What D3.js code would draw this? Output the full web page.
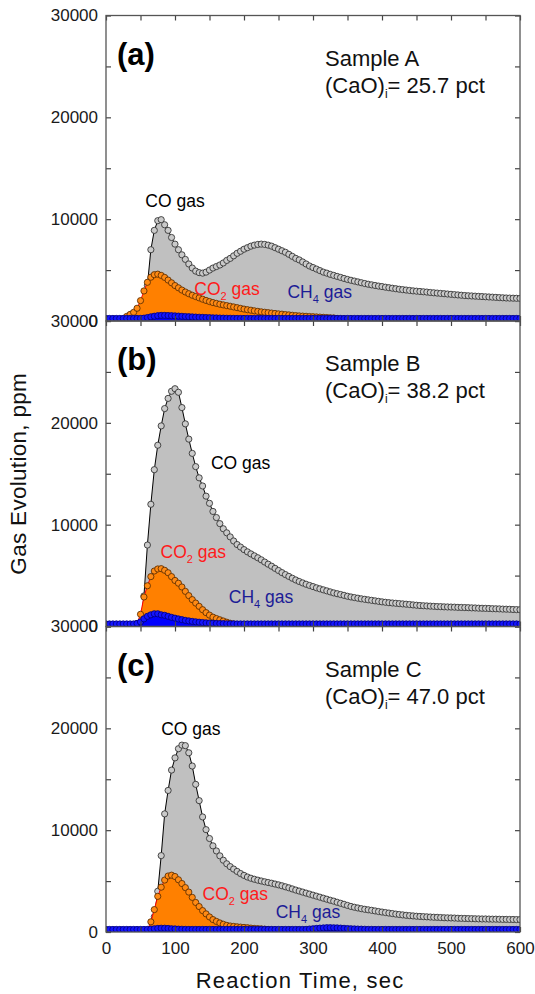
<!DOCTYPE html>
<html><head><meta charset="utf-8">
<script src="https://cdn.jsdelivr.net/npm/d3@7/dist/d3.min.js"></script>
<style>
body{margin:0;background:#fff;}
svg text{font-family:"Liberation Sans",Arial,sans-serif;}
</style></head>
<body><div id="chart"></div>
<script>
/* Gas evolution (ppm) versus reaction time for three samples.
   Every series is sampled each 5 s; values are read off the figure. */
var time=[0,5,10,15,20,25,30,35,40,45,50,
  55,60,65,70,75,80,85,90,95,100,
  105,110,115,120,125,130,135,140,145,150,
  155,160,165,170,175,180,185,190,195,200,
  205,210,215,220,225,230,235,240,245,250,
  255,260,265,270,275,280,285,290,295,300,
  305,310,315,320,325,330,335,340,345,350,
  355,360,365,370,375,380,385,390,395,400,
  405,410,415,420,425,430,435,440,445,450,
  455,460,465,470,475,480,485,490,495,500,
  505,510,515,520,525,530,535,540,545,550,
  555,560,565,570,575,580,585,590,595,600];

// Sample A
var coA=[0,0,0,0,0,0,0,0,0,0,0,
  150,3500,7000,8900,9850,9950,9450,8900,8200,7550,
  7000,6500,6050,5600,5200,4900,4750,4700,4800,5000,
  5200,5350,5500,5700,5950,6150,6400,6650,6850,7050,
  7200,7350,7450,7520,7550,7520,7450,7350,7200,7050,
  6900,6750,6550,6350,6150,6000,5800,5600,5400,5250,
  5100,4950,4800,4700,4580,4480,4380,4280,4180,4080,
  4000,3920,3840,3760,3680,3610,3550,3490,3430,3380,
  3320,3270,3220,3170,3120,3080,3040,3000,2960,2930,
  2900,2870,2840,2800,2770,2740,2710,2680,2650,2620,
  2590,2560,2530,2500,2480,2460,2440,2420,2400,2380,
  2360,2340,2320,2300,2280,2260,2250,2240,2230,2220];
var co2A=[0,0,0,0,0,200,450,650,850,1250,2000,
  2950,3800,4300,4550,4600,4480,4280,4020,3750,3480,
  3260,3040,2850,2680,2530,2400,2270,2140,2020,1910,
  1810,1730,1650,1580,1510,1450,1380,1310,1240,1170,
  1110,1060,1000,950,900,860,820,780,740,700,
  670,630,600,560,530,500,480,460,440,420,
  400,380,360,340,320,300,250,200,150,100,
  0,0,0,0,0,0,0,0,0,0,
  0,0,0,0,0,0,0,0,0,0,
  0,0,0,0,0,0,0,0,0,0,
  0,0,0,0,0,0,0,0,0,0,
  0,0,0,0,0,0,0,0,0,0];
var ch4A=[250,250,250,250,250,250,250,250,250,250,250,
  280,340,410,470,520,550,550,540,520,500,
  480,460,440,420,400,385,370,355,340,325,
  310,300,290,280,270,265,260,255,250,250,
  250,250,250,250,250,250,250,250,250,250,
  250,250,250,250,250,250,250,250,250,250,
  250,250,250,250,250,250,250,250,250,250,
  250,250,250,250,250,250,250,250,250,250,
  250,250,250,250,250,250,250,250,250,250,
  250,250,250,250,250,250,250,250,250,250,
  250,250,250,250,250,250,250,250,250,250,
  250,250,250,250,250,250,250,250,250,250];

// Sample B
var coB=[0,0,0,0,0,0,0,0,0,0,300,
  3000,8000,12000,15400,17800,19700,21400,22400,23100,23350,
  23000,21500,19900,18400,17000,15700,14600,13800,12800,12100,
  11300,10700,10100,9600,9200,8800,8400,8050,7800,7550,
  7330,7130,6940,6750,6550,6330,6120,5920,5710,5500,
  5290,5100,4920,4740,4570,4420,4280,4150,4030,3920,
  3800,3700,3600,3500,3400,3300,3220,3140,3060,2970,
  2900,2840,2780,2720,2670,2620,2570,2520,2470,2420,
  2380,2340,2310,2280,2250,2220,2190,2160,2120,2090,
  2060,2040,2020,2000,1980,1960,1950,1930,1920,1910,
  1900,1880,1870,1860,1850,1830,1820,1800,1790,1780,
  1770,1750,1740,1730,1710,1700,1690,1670,1660,1650];
var co2B=[0,0,0,0,0,0,0,0,0,300,1200,
  2900,4000,4900,5450,5650,5680,5520,5280,4900,4520,
  4250,3880,3450,3030,2640,2300,1980,1650,1360,1120,
  920,780,660,540,420,320,250,180,120,80,
  50,0,0,0,0,0,0,0,0,0,
  0,0,0,0,0,0,0,0,0,0,
  0,0,0,0,0,0,0,0,0,0,
  0,0,0,0,0,0,0,0,0,0,
  0,0,0,0,0,0,0,0,0,0,
  0,0,0,0,0,0,0,0,0,0,
  0,0,0,0,0,0,0,0,0,0,
  0,0,0,0,0,0,0,0,0,0];
var ch4B=[250,250,250,250,250,250,250,250,250,300,450,
  750,1000,1150,1250,1250,1150,1100,1000,900,820,
  740,670,600,550,500,460,420,390,360,340,
  320,300,290,280,270,260,260,250,250,250,
  250,250,250,250,250,250,250,250,250,250,
  250,250,250,250,250,250,250,250,250,250,
  250,250,250,250,250,250,250,250,250,250,
  250,250,250,250,250,250,250,250,250,250,
  250,250,250,250,250,250,250,250,250,250,
  250,250,250,250,250,250,250,250,250,250,
  250,250,250,250,250,250,250,250,250,250,
  250,250,250,250,250,250,250,250,250,250];

// Sample C
var coC=[0,0,0,0,0,0,0,0,0,0,0,
  0,0,0,1500,4000,7500,11600,13900,15900,17100,
  18000,18350,18300,17600,16300,14500,12900,11300,10050,9180,
  8460,7960,7480,7050,6700,6420,6180,5950,5740,5560,
  5400,5280,5180,5090,5010,4930,4860,4790,4710,4630,
  4540,4440,4340,4230,4120,4020,3920,3820,3720,3620,
  3520,3420,3320,3220,3120,3030,2920,2820,2720,2610,
  2510,2430,2360,2290,2230,2180,2130,2070,2010,1960,
  1910,1860,1810,1760,1720,1680,1640,1610,1580,1550,
  1530,1510,1490,1470,1450,1440,1420,1400,1390,1380,
  1370,1350,1340,1330,1320,1310,1300,1290,1280,1280,
  1270,1260,1260,1250,1240,1240,1230,1230,1220,1220];
var co2C=[0,0,0,0,0,0,0,0,0,0,0,
  0,200,1000,2200,3500,4400,5100,5500,5580,5450,
  5130,4760,4360,3920,3400,2900,2500,2100,1780,1480,
  1220,1040,890,760,650,590,550,510,480,450,
  420,380,350,330,310,280,250,200,150,100,
  0,0,0,0,0,0,0,0,0,0,
  0,0,0,0,0,0,0,0,0,0,
  0,0,0,0,0,0,0,0,0,0,
  0,0,0,0,0,0,0,0,0,0,
  0,0,0,0,0,0,0,0,0,0,
  0,0,0,0,0,0,0,0,0,0,
  0,0,0,0,0,0,0,0,0,0];
var ch4C=[250,250,250,250,250,250,250,250,250,250,250,
  250,250,280,320,350,370,370,350,320,300,
  280,270,260,250,250,250,250,250,250,250,
  250,250,250,250,250,250,250,250,250,250,
  250,250,250,250,250,250,250,250,250,250,
  250,250,250,250,250,250,250,260,290,320,
  350,380,400,420,420,415,400,380,360,340,
  320,300,290,280,270,260,255,250,250,250,
  250,250,250,250,250,250,250,250,250,250,
  250,250,250,250,250,250,250,250,250,250,
  250,250,250,250,250,250,250,250,250,250,
  250,250,250,250,250,250,250,250,250,250];

var tags=["(a)","(b)","(c)"];
var samples=["Sample A","Sample B","Sample C"];
var caoPct=["25.7","38.2","47.0"];
var xTicks=[0,50,100,150,200,250,300,350,400,450,500,550,600];
var yTicks=[0,5000,10000,15000,20000,25000,30000];

var panels=[
  {tag:tags[0],sample:samples[0],cao:caoPct[0],co:coA,co2:co2A,ch4:ch4A},
  {tag:tags[1],sample:samples[1],cao:caoPct[1],co:coB,co2:co2B,ch4:ch4B},
  {tag:tags[2],sample:samples[2],cao:caoPct[2],co:coC,co2:co2C,ch4:ch4C}
];

// gas label anchors, in data units (left x / baseline), per panel
var labelAt=[
  {co:[57,11200],co2:[128,2550],ch4:[263,2260]},
  {co:[152,15500],co2:[79,6700],ch4:[178,2300]},
  {co:[80,19350],co2:[140,3140],ch4:[246,1380]}
];

var gasStyle={
  co:{area:"#c0c0c0",line:"#000000",dot:"#cacaca",edge:"#2e2e2e",label:"#000000",sub:""},
  co2:{area:"#ff8000",line:"#ff0000",dot:"#ff8a14",edge:"#5a2c00",label:"#ff1a1a",sub:"2"},
  ch4:{area:"#0000ff",line:"#0000ff",dot:"#1414ff",edge:"#000080",label:"#1c1c96",sub:"4"}
};

var W=535,H=994,L=106,R=520,ph=305.5,tops=[15.5,321,626.5];
var svg=d3.select("#chart").append("svg").attr("width",W).attr("height",H);
var x=d3.scaleLinear().domain([0,600]).range([L,R]);

function gasLabel(g,k,px,py){
    var st=gasStyle[k];
    var t=g.append("text").attr("x",px).attr("y",py).attr("fill",st.label).attr("font-size",17.5);
    if(k==="co"){t.text("CO gas");return;}
    t.append("tspan").text(k==="co2"?"CO":"CH");
    t.append("tspan").attr("font-size",11).attr("dy",5).text(st.sub);
    t.append("tspan").attr("dy",-5).text(" gas");
}

panels.forEach(function(p,i){
    var top=tops[i], bot=top+ph;
    var y=d3.scaleLinear().domain([0,30000]).range([bot,top]);
    var g=svg.append("g");
    svg.append("clipPath").attr("id","clip"+i).append("rect")
        .attr("x",L).attr("y",top).attr("width",R-L).attr("height",ph);
    var pg=g.append("g").attr("clip-path","url(#clip"+i+")");

    ["co","co2","ch4"].forEach(function(k){
        var st=gasStyle[k];
        var pts=time.map(function(t,j){return [t,p[k][j]];});
        pg.append("path").datum(pts).attr("fill",st.area)
            .attr("d",d3.area().x(function(d){return x(d[0]);}).y0(y(0)).y1(function(d){return y(d[1]);}));
        pg.append("path").datum(pts).attr("fill","none").attr("stroke",st.line).attr("stroke-width",1)
            .attr("d",d3.line().x(function(d){return x(d[0]);}).y(function(d){return y(d[1]);}));
        pg.selectAll(null).data(pts).enter().append("circle")
            .attr("cx",function(d){return x(d[0]);}).attr("cy",function(d){return y(d[1]);})
            .attr("r",3.1).attr("fill",st.dot).attr("stroke",st.edge).attr("stroke-width",0.85);
    });

    // inward ticks on all four sides
    var ax=g.append("g").attr("color","#444");
    ax.append("g").attr("transform","translate(0,"+bot+")")
        .call(d3.axisBottom(x).tickValues(xTicks).tickSize(-5).tickPadding(10)
        .tickFormat(function(d){return (i===2&&d%100===0)?d:"";}));
    ax.append("g").attr("transform","translate(0,"+top+")")
        .call(d3.axisTop(x).tickValues(xTicks).tickSize(-5).tickFormat(""));
    ax.append("g").attr("transform","translate("+L+",0)")
        .call(d3.axisLeft(y).tickValues(yTicks).tickSize(-5).tickPadding(8)
        .tickFormat(function(d){return d%10000===0?d:"";}));
    ax.append("g").attr("transform","translate("+R+",0)")
        .call(d3.axisRight(y).tickValues(yTicks).tickSize(-5).tickFormat(""));
    ax.selectAll(".domain").remove();
    ax.selectAll(".tick line").attr("stroke-width",1.2);
    ax.selectAll("text").attr("font-family","Liberation Sans, Arial, sans-serif").attr("font-size",17).attr("fill","#1a1a1a");

    g.append("rect").attr("x",L).attr("y",top).attr("width",R-L).attr("height",ph)
        .attr("fill","none").attr("stroke","#555").attr("stroke-width",1.3);

    g.append("text").attr("x",117).attr("y",top+49).attr("font-size",31).attr("font-weight","bold").text(p.tag);
    g.append("text").attr("x",325).attr("y",top+50).attr("font-size",22).attr("fill","#111").text(p.sample);
    var c=g.append("text").attr("x",325).attr("y",top+77).attr("font-size",22).attr("fill","#111");
    c.append("tspan").text("(CaO)");
    c.append("tspan").attr("font-size",12).attr("dy",5).text("i");
    c.append("tspan").attr("dy",-5).text("= "+p.cao+" pct");

    ["co","co2","ch4"].forEach(function(k){
        gasLabel(g,k,x(labelAt[i][k][0]),y(labelAt[i][k][1]));
    });
});

svg.append("text").attr("transform","translate(26,"+((tops[0]+tops[2]+ph)/2)+") rotate(-90)")
    .attr("text-anchor","middle").attr("font-size",22.5).attr("letter-spacing",0.3).attr("fill","#111").text("Gas Evolution, ppm");
svg.append("text").attr("x",300).attr("y",988).attr("text-anchor","middle")
    .attr("font-size",22).attr("letter-spacing",1.2).attr("fill","#111").text("Reaction Time, sec");
</script>
</body></html>
